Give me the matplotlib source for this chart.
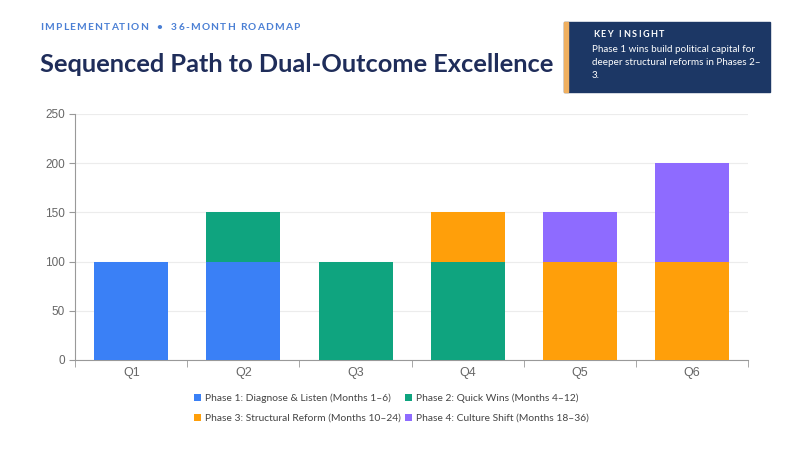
import matplotlib
matplotlib.use('Agg')
import matplotlib.pyplot as plt
from matplotlib.patches import Rectangle
import numpy as np

# chart data
quarters = ['Q1', 'Q2', 'Q3', 'Q4', 'Q5', 'Q6']
phase_names = ['Phase 1: Diagnose & Listen (Months 1–6)',
               'Phase 2: Quick Wins (Months 4–12)',
               'Phase 3: Structural Reform (Months 10–24)',
               'Phase 4: Culture Shift (Months 18–36)']
phase1 = [100, 100, 0, 0, 0, 0]
phase2 = [0, 50, 100, 100, 0, 0]
phase3 = [0, 0, 0, 50, 100, 100]
phase4 = [0, 0, 0, 0, 50, 100]
colors = ['#3A80F6', '#0FA47F', '#FF9F0A', '#8E6BFF']

plt.rcParams['font.family'] = ['Lato', 'DejaVu Sans']

fig = plt.figure(figsize=(8, 4.5), dpi=100)
fig.patch.set_facecolor('white')
ax = fig.add_axes([0.094, 0.2, 0.841, 0.547])

x = np.arange(len(quarters))
bottom = np.zeros(len(quarters))
handles = []
for vals, name, c in zip([phase1, phase2, phase3, phase4], phase_names, colors):
    b = ax.bar(x, vals, 0.66, bottom=bottom, color=c, label=name, zorder=3)
    handles.append(b)
    bottom += np.array(vals)

ax.set_xlim(-0.5, len(quarters) - 0.5)
ax.set_ylim(0, 250)
ax.set_yticks(range(0, 251, 50))
ax.set_xticks(x)
ax.set_xticklabels(quarters)
ax.set_xticks(np.arange(-0.5, len(quarters), 1), minor=True)
ax.tick_params(axis='x', which='major', length=0, pad=5, labelsize=9, labelcolor='#666666')
ax.tick_params(axis='x', which='minor', length=5, color='#999999')
ax.tick_params(axis='y', length=4, color='#999999', labelsize=8.5, labelcolor='#666666')
for lbl in ax.get_xticklabels() + ax.get_yticklabels():
    lbl.set_family('Liberation Sans')
ax.grid(axis='y', color='#ececec', linewidth=0.8, zorder=0)
for s in ['top', 'right']:
    ax.spines[s].set_visible(False)
for s in ['left', 'bottom']:
    ax.spines[s].set_color('#999999')

order = [0, 2, 1, 3]
leg = ax.legend([handles[i] for i in order], [phase_names[i] for i in order],
                ncol=2, loc='upper center', bbox_to_anchor=(0.47, -0.1),
                frameon=False, fontsize=7.4, handlelength=0.7, handleheight=0.7,
                handletextpad=0.4, columnspacing=0.4, labelspacing=1.0)
for t in leg.get_texts():
    t.set_color('#444444')

renderer = fig.canvas.get_renderer()


def spaced(x0, y0, text, spacing, **kw):
    # draw letter-spaced text char by char (pixel coords)
    xp = x0
    for ch in text:
        t = fig.text(xp / 800, 1 - y0 / 450, ch, va='baseline', ha='left', **kw)
        w = t.get_window_extent(renderer).width
        if ch == ' ':
            w = kw.get('fontsize', 8) * 0.35
        xp += w + spacing


spaced(40, 30, 'IMPLEMENTATION  •  36-MONTH ROADMAP', 1.2,
       fontsize=7.3, fontweight='bold', color='#4A7FD4')
fig.text(40 / 800, 1 - 72 / 450, 'Sequenced Path to Dual-Outcome Excellence',
         fontsize=18.3, fontweight='bold', color='#1F2D5A', va='baseline')

# insight box
fig.patches.append(Rectangle((564 / 800, 1 - 92 / 450), 206 / 800, 70 / 450,
                             transform=fig.transFigure, color='#1C3765', zorder=1))
fig.patches.append(Rectangle((564 / 800, 1 - 92 / 450), 4 / 800, 70 / 450,
                             transform=fig.transFigure, color='#F0B060', zorder=2))
spaced(593, 37, 'KEY INSIGHT', 1.6, fontsize=6.5, fontweight='bold', color='white')
fig.text(592 / 800, 1 - 45 / 450,
         'Phase 1 wins build political capital for\ndeeper structural reforms in Phases 2–\n3.',
         fontsize=7.1, color='white', va='top', linespacing=1.55)

fig.savefig('out.png', dpi=100)
